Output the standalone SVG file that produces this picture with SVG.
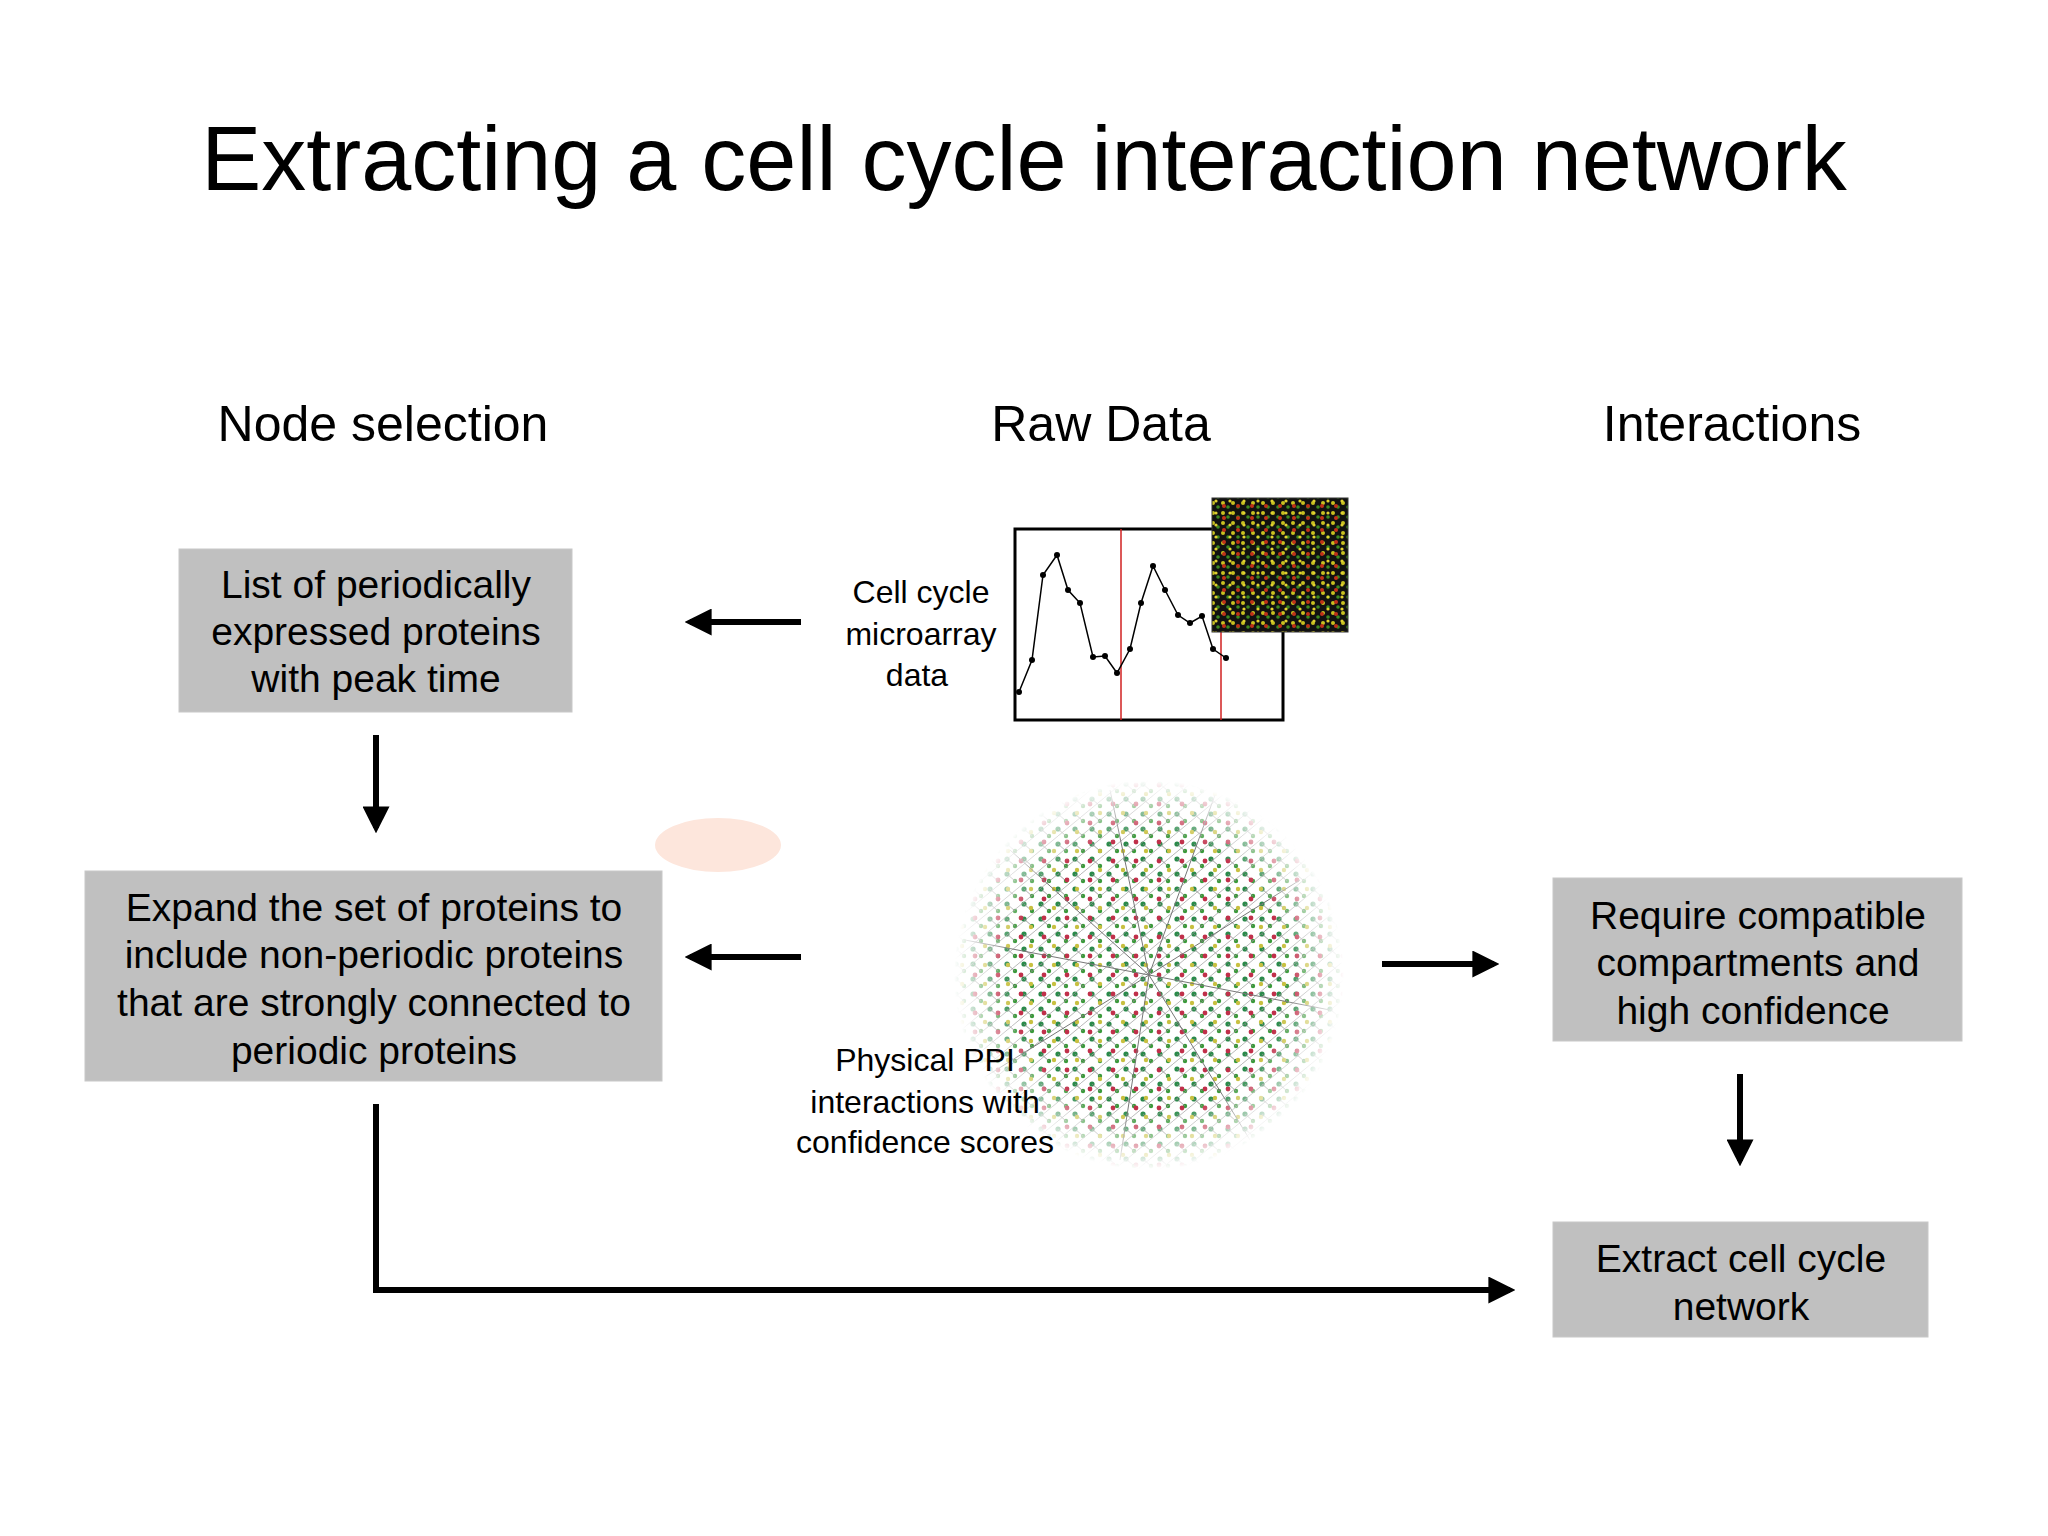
<svg xmlns="http://www.w3.org/2000/svg" width="2048" height="1536" viewBox="0 0 2048 1536">
<defs>
<style>
text{font-family:"Liberation Sans",Arial,sans-serif;fill:#000;text-anchor:middle}
.h{font-size:50px}
.b{font-size:39px}
.s{font-size:32px}
.box{fill:#c0c0c0;stroke:#c8c8c8}
.ar{stroke:#000;stroke-width:6;fill:none}
</style>
<marker id="ah" viewBox="0 0 10 10" refX="8" refY="5" markerWidth="4.5" markerHeight="4.5" orient="auto" markerUnits="strokeWidth"><path d="M0,0 L10,5 L0,10 z" fill="#000"/></marker>
<pattern id="ma" width="10" height="10" patternUnits="userSpaceOnUse"><rect width="10" height="10" fill="#111"/><circle cx="3" cy="3" r="2" fill="#c8c020"/><circle cx="8" cy="7" r="1.8" fill="#3a8a20"/></pattern>
<pattern id="ma2" width="14" height="12" patternUnits="userSpaceOnUse"><circle cx="6" cy="2" r="2" fill="#c03018"/><circle cx="12" cy="9" r="1.6" fill="#e0d030"/></pattern>
<pattern id="nd" width="17" height="15" patternUnits="userSpaceOnUse"><circle cx="4" cy="4" r="2.6" fill="#2a8a4a"/><circle cx="12" cy="11" r="2.2" fill="#3a9a3a"/><line x1="4" y1="4" x2="12" y2="11" stroke="#888" stroke-width="0.8"/></pattern>
<pattern id="nd2" width="23" height="19" patternUnits="userSpaceOnUse"><circle cx="9" cy="6" r="2.4" fill="#c0304a"/><circle cx="19" cy="15" r="2.2" fill="#c8c040"/><line x1="0" y1="19" x2="23" y2="0" stroke="#999" stroke-width="0.7"/></pattern>
<radialGradient id="fade"><stop offset="0.7" stop-color="#fff" stop-opacity="1"/><stop offset="1" stop-color="#fff" stop-opacity="0"/></radialGradient>
<mask id="nm"><circle cx="1149" cy="975" r="195" fill="url(#fade)"/></mask>
</defs>
<rect width="2048" height="1536" fill="#fff"/>
<ellipse cx="718" cy="845" rx="63" ry="27" fill="#fde6dc"/>
<text x="1024" y="190" style="font-size:90px">Extracting a cell cycle interaction network</text>
<text class="h" x="383" y="441">Node selection</text>
<text class="h" x="1101" y="441">Raw Data</text>
<text class="h" x="1732" y="441">Interactions</text>

<g id="n1"><rect class="box" x="179" y="549" width="393" height="163"/>
<text class="b" x="376" y="598">List of periodically</text><text class="b" x="376" y="645">expressed proteins</text><text class="b" x="376" y="692">with peak time</text></g>
<g id="n2"><rect class="box" x="85" y="871" width="577" height="210"/>
<text class="b" x="374" y="921">Expand the set of proteins to</text><text class="b" x="374" y="968">include non-periodic proteins</text><text class="b" x="374" y="1016">that are strongly connected to</text><text class="b" x="374" y="1064">periodic proteins</text></g>
<g id="n3"><rect class="box" x="1553" y="878" width="409" height="163"/>
<text class="b" x="1758" y="929">Require compatible</text><text class="b" x="1758" y="976">compartments and</text><text class="b" x="1753" y="1024">high confidence</text></g>
<g id="n4"><rect class="box" x="1553" y="1222" width="375" height="115"/>
<text class="b" x="1741" y="1272">Extract cell cycle</text><text class="b" x="1741" y="1320">network</text></g>

<g id="chart">
<rect x="1015" y="529" width="268" height="191" fill="#fff" stroke="#000" stroke-width="3"/>
<line x1="1121" y1="529" x2="1121" y2="720" stroke="#d02020" stroke-width="1.5"/>
<line x1="1221" y1="529" x2="1221" y2="720" stroke="#d02020" stroke-width="1.5"/>
<polyline fill="none" stroke="#000" stroke-width="1.5" points="1019,692 1032,660 1043,575 1057,555 1068,590 1080,603 1093,657 1105,656 1117,673 1130,649 1141,603 1153,566 1165,590 1178,615 1190,623 1202,616 1213,649 1226,658"/>
<g fill="#000"><circle cx="1019" cy="692" r="3"/><circle cx="1032" cy="660" r="3"/><circle cx="1043" cy="575" r="3"/><circle cx="1057" cy="555" r="3"/><circle cx="1068" cy="590" r="3"/><circle cx="1080" cy="603" r="3"/><circle cx="1093" cy="657" r="3"/><circle cx="1105" cy="656" r="3"/><circle cx="1117" cy="673" r="3"/><circle cx="1130" cy="649" r="3"/><circle cx="1141" cy="603" r="3"/><circle cx="1153" cy="566" r="3"/><circle cx="1165" cy="590" r="3"/><circle cx="1178" cy="615" r="3"/><circle cx="1190" cy="623" r="3"/><circle cx="1202" cy="616" r="3"/><circle cx="1213" cy="649" r="3"/><circle cx="1226" cy="658" r="3"/></g>
<rect x="1212" y="498" width="136" height="134" fill="url(#ma)" stroke="#333"/>
<rect x="1212" y="498" width="136" height="134" fill="url(#ma2)"/>
</g>
<g id="network" mask="url(#nm)">
<rect x="950" y="775" width="400" height="400" fill="url(#nd)"/>
<rect x="950" y="775" width="400" height="400" fill="url(#nd2)"/>
<g stroke="#777" stroke-width="1"><line x1="1149" y1="975" x2="1110" y2="790"/><line x1="1149" y1="975" x2="1215" y2="795"/><line x1="1149" y1="975" x2="1300" y2="880"/><line x1="1149" y1="975" x2="1330" y2="1010"/><line x1="1149" y1="975" x2="1250" y2="1140"/><line x1="1149" y1="975" x2="1120" y2="1160"/><line x1="1149" y1="975" x2="980" y2="1080"/><line x1="1149" y1="975" x2="965" y2="940"/><line x1="1149" y1="975" x2="1010" y2="850"/></g>
</g>
<text class="s" x="921" y="603">Cell cycle</text><text class="s" x="921" y="645">microarray</text><text class="s" x="917" y="686">data</text>
<text class="s" x="925" y="1071">Physical PPI</text><text class="s" x="925" y="1113">interactions with</text><text class="s" x="925" y="1153">confidence scores</text>

<g id="connectors">
<line class="ar" x1="801" y1="622" x2="690" y2="622" marker-end="url(#ah)"/>
<line class="ar" x1="801" y1="957" x2="690" y2="957" marker-end="url(#ah)"/>
<line class="ar" x1="376" y1="735" x2="376" y2="828" marker-end="url(#ah)"/>
<line class="ar" x1="1382" y1="964" x2="1494" y2="964" marker-end="url(#ah)"/>
<line class="ar" x1="1740" y1="1074" x2="1740" y2="1161" marker-end="url(#ah)"/>
<polyline class="ar" points="376,1104 376,1290 1510,1290" marker-end="url(#ah)"/>
</g>
</svg>
